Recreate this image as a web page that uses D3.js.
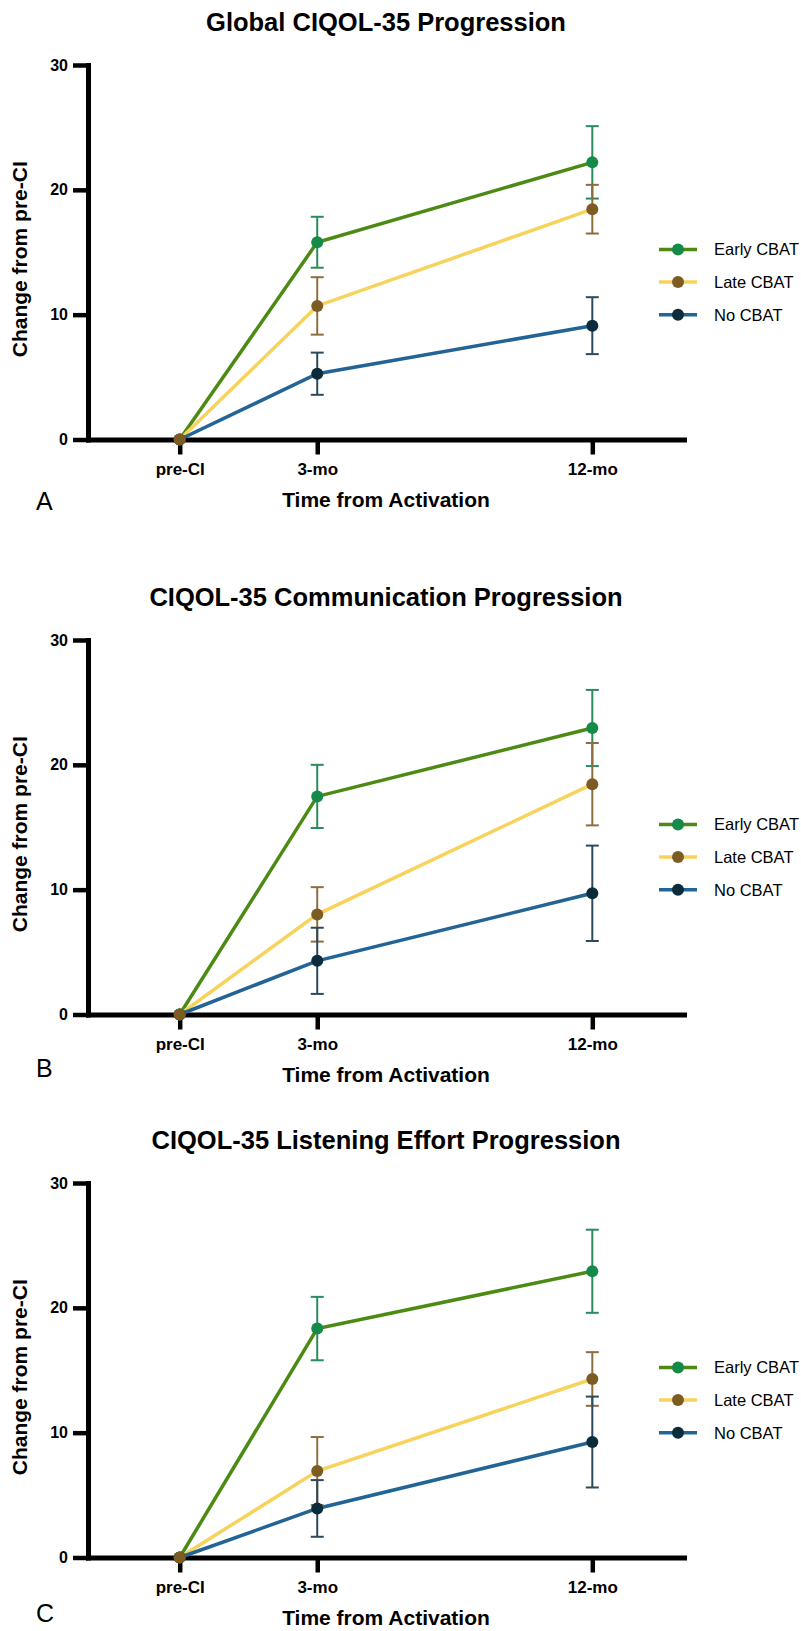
<!DOCTYPE html>
<html lang="en">
    <head>
        <meta charset="utf-8">
        <title>CIQOL-35 Progression</title>
        <script type="text/javascript" src="https://d3js.org/d3.v7.min.js"></script>
        <style type="text/css">
            body { margin: 0; background: #fff; }
            text { font-family: "Liberation Sans", Arial, sans-serif; fill: #000; }
        </style>
    </head>
    <body>
        <div id="chart"></div>
        <script type="text/javascript">
            // data (change from pre-CI, mean and error bar half-length)
            const timeLabels = ["pre-CI", "3-mo", "12-mo"];
            const timeValues = [0, 3, 9];
            const groups = ["Early CBAT", "Late CBAT", "No CBAT"];
            const panelTitles = ["Global CIQOL-35 Progression", "CIQOL-35 Communication Progression", "CIQOL-35 Listening Effort Progression"];
            const panelLetters = ["A", "B", "C"];
            const yTicks = [0, 10, 20, 30];

            // rows: Early, Late, No
            const globalMean = [[0, 15.8, 22.2], [0, 10.7, 18.45], [0, 5.27, 9.12]];
            const globalErr = [[0, 2.04, 2.9], [0, 2.3, 1.95], [0, 1.69, 2.28]];
            const commMean = [[0, 17.47, 22.95], [0, 8.02, 18.45], [0, 4.3, 9.71]];
            const commErr = [[0, 2.53, 3.05], [0, 2.18, 3.3], [0, 2.65, 3.82]];
            const effortMean = [[0, 18.34, 22.93], [0, 6.92, 14.3], [0, 3.93, 9.25]];
            const effortErr = [[0, 2.54, 3.33], [0, 2.73, 2.15], [0, 2.27, 3.64]];

            const means = [globalMean, commMean, effortMean];
            const errs = [globalErr, commErr, effortErr];

            const lineColors = ["#4c8a14", "#f7d35c", "#236496"];
            const dotColors = ["#168a48", "#7d5c23", "#0b2c3b"];
            const barColors = ["#2a8c5c", "#8c6e3c", "#2c4a5c"];

            // layout
            const W = 801, H = 1631;
            const plotLeft = 88, plotRight = 684;
            const plotH = 374.5;
            const panelTops = [65, 640, 1183];
            const letterDy = [70, 62, 64];

            const svg = d3.select("#chart")
                .append("svg")
                .attr("width", W)
                .attr("height", H);

            svg.append("rect").attr("width", W).attr("height", H).attr("fill", "#fff");

            const xScale = d3.scaleLinear().domain([-2, 11]).range([plotLeft, plotRight]);
            const xMid = (plotLeft + plotRight) / 2;

            panelTops.forEach((top, p) => {
                const y0 = top + plotH;
                const yScale = d3.scaleLinear().domain([0, 30]).range([y0, top]);
                const g = svg.append("g");

                // title
                g.append("text")
                    .attr("x", xMid)
                    .attr("y", top - 34)
                    .attr("text-anchor", "middle")
                    .attr("font-size", 25.5)
                    .attr("font-weight", "bold")
                    .text(panelTitles[p]);

                // axes
                const yAxis = d3.axisLeft(yScale).tickValues(yTicks).tickSize(15).tickSizeOuter(0).tickPadding(5);
                const xAxis = d3.axisBottom(xScale).tickValues(timeValues)
                    .tickFormat((d, i) => timeLabels[i])
                    .tickSize(15).tickSizeOuter(0).tickPadding(8.5);

                const gx = g.append("g")
                    .attr("transform", "translate(0," + y0 + ")")
                    .call(xAxis);
                const gy = g.append("g")
                    .attr("transform", "translate(" + plotLeft + ",0)")
                    .call(yAxis);

                [gx, gy].forEach(ax => {
                    ax.attr("font-family", null).attr("font-size", null);
                    ax.select(".domain").attr("stroke", "#000").attr("stroke-width", 5).attr("stroke-linecap", "square");
                    ax.selectAll(".tick line").attr("stroke", "#000").attr("stroke-width", 4.5);
                    ax.selectAll(".tick text").attr("font-weight", "bold").attr("fill", "#000");
                });
                gx.selectAll(".tick text").attr("font-size", 17);
                gy.selectAll(".tick text").attr("font-size", 16);

                // axis titles
                g.append("text")
                    .attr("x", xMid)
                    .attr("y", y0 + 67.5)
                    .attr("text-anchor", "middle")
                    .attr("font-size", 21)
                    .attr("font-weight", "bold")
                    .text("Time from Activation");

                g.append("text")
                    .attr("transform", "translate(27," + ((top + y0) / 2 + 7) + ") rotate(-90)")
                    .attr("text-anchor", "middle")
                    .attr("font-size", 21)
                    .attr("font-weight", "bold")
                    .text("Change from pre-CI");

                g.append("text")
                    .attr("x", 36)
                    .attr("y", y0 + letterDy[p])
                    .attr("font-size", 25)
                    .attr("fill", "#111")
                    .text(panelLetters[p]);

                // series
                const line = d3.line()
                    .x((d, i) => xScale(timeValues[i]))
                    .y(d => yScale(d));

                const series = groups.map((name, s) => ({
                    s: s,
                    values: means[p][s],
                    errors: errs[p][s]
                }));

                const lines = g.append("g");
                series.forEach(d => {
                    lines.append("path")
                        .attr("d", line(d.values))
                        .attr("fill", "none")
                        .attr("stroke", lineColors[d.s])
                        .attr("stroke-width", 3.5);
                });

                const bars = g.append("g");
                series.forEach(d => {
                    d.values.forEach((v, i) => {
                        const e = d.errors[i];
                        if (!e) return;
                        const cx = xScale(timeValues[i]);
                        const bar = bars.append("g").attr("stroke", barColors[d.s]).attr("stroke-width", 2);
                        bar.append("line").attr("x1", cx).attr("x2", cx).attr("y1", yScale(v + e)).attr("y2", yScale(v - e));
                        bar.append("line").attr("x1", cx - 6.5).attr("x2", cx + 6.5).attr("y1", yScale(v + e)).attr("y2", yScale(v + e));
                        bar.append("line").attr("x1", cx - 6.5).attr("x2", cx + 6.5).attr("y1", yScale(v - e)).attr("y2", yScale(v - e));
                    });
                });

                const dots = g.append("g");
                [0, 2, 1].forEach(s => {
                    dots.selectAll(null)
                        .data(means[p][s])
                        .enter()
                        .append("circle")
                        .attr("cx", (d, i) => xScale(timeValues[i]))
                        .attr("cy", d => yScale(d))
                        .attr("r", 6)
                        .attr("fill", dotColors[s]);
                });

                // legend
                const legend = g.append("g");
                groups.forEach((name, s) => {
                    const ly = y0 - 190 + s * 32.6;
                    legend.append("line")
                        .attr("x1", 659).attr("x2", 697)
                        .attr("y1", ly).attr("y2", ly)
                        .attr("stroke", lineColors[s])
                        .attr("stroke-width", 3.5);
                    legend.append("circle")
                        .attr("cx", 678).attr("cy", ly)
                        .attr("r", 6)
                        .attr("fill", dotColors[s]);
                    legend.append("text")
                        .attr("x", 714).attr("y", ly)
                        .attr("dy", "0.36em")
                        .attr("font-size", 16.5)
                        .text(name);
                });
            });
        </script>
    </body>
</html>
